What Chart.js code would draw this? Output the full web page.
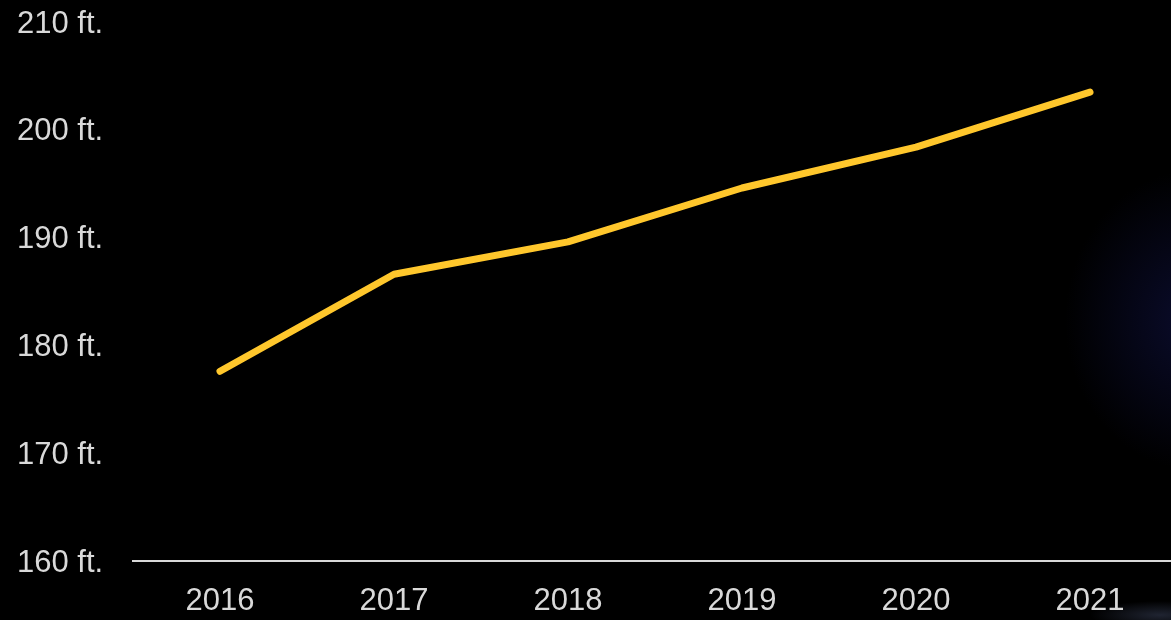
<!DOCTYPE html>
<html>
<head>
<meta charset="utf-8">
<script src="https://cdn.jsdelivr.net/npm/chart.js@4/dist/chart.umd.min.js"></script>
<style>
    html, body {
        margin: 0;
        padding: 0;
        overflow: hidden;
        width: 1171px;
        height: 620px;
        background: #000;
    }
    body {
        background:
            radial-gradient(ellipse 70px 14px at 1160px 615px, rgba(70,80,110,0.45), rgba(0,0,0,0) 100%),
            radial-gradient(ellipse 130px 150px at 1195px 320px, rgba(12,14,52,0.85), rgba(0,0,0,0) 100%),
            #000;
    }
    canvas { display: block; }
</style>
</head>
<body>
<canvas id="heightChart" width="1177" height="620"></canvas>
<script>
// yearly values, in feet
const years = ['2016', '2017', '2018', '2019', '2020', '2021']
const heights = [177.6, 186.6, 189.6, 194.6, 198.4, 203.5]

const yMin = 160
const yMax = 210
const yStep = 10

const textColor = '#d9d9d9'
const lineColor = '#ffc72c'
const fontFamily = 'Liberation Sans, Arial, sans-serif'

let heightChart =
new Chart(
    document.getElementById('heightChart'),
    {
        type: 'line',
        data: {
            labels: years,
            datasets: [{
                label: 'Height',
                data: heights,
                borderColor: lineColor,
                borderWidth: 7,
                borderCapStyle: 'round',
                borderJoinStyle: 'round',
                pointRadius: 0,
                tension: 0
            }]
        },
        options: {
            responsive: false,
            animation: false,
            layout: {
                padding: { left: 17, top: 22, right: 0, bottom: 0 }
            },
            plugins: {
                legend: { display: false },
                tooltip: { enabled: false }
            },
            scales: {
                x: {
                    offset: true,
                    grid: { display: false, drawTicks: false },
                    border: { display: true, color: textColor, width: 2 },
                    ticks: {
                        color: textColor,
                        padding: 22,
                        font: { family: fontFamily, size: 31 },
                        maxRotation: 0
                    },
                    afterFit: scale => { scale.height = 59 }
                },
                y: {
                    min: yMin,
                    max: yMax,
                    grid: { display: false, drawTicks: false },
                    border: { display: false },
                    ticks: {
                        stepSize: yStep,
                        color: textColor,
                        crossAlign: 'far',
                        labelOffset: 2,
                        font: { family: fontFamily, size: 31 },
                        callback: v => v + ' ft.'
                    },
                    afterFit: scale => { scale.width = 116 }
                }
            }
        }
    }
)
</script>
</body>
</html>
